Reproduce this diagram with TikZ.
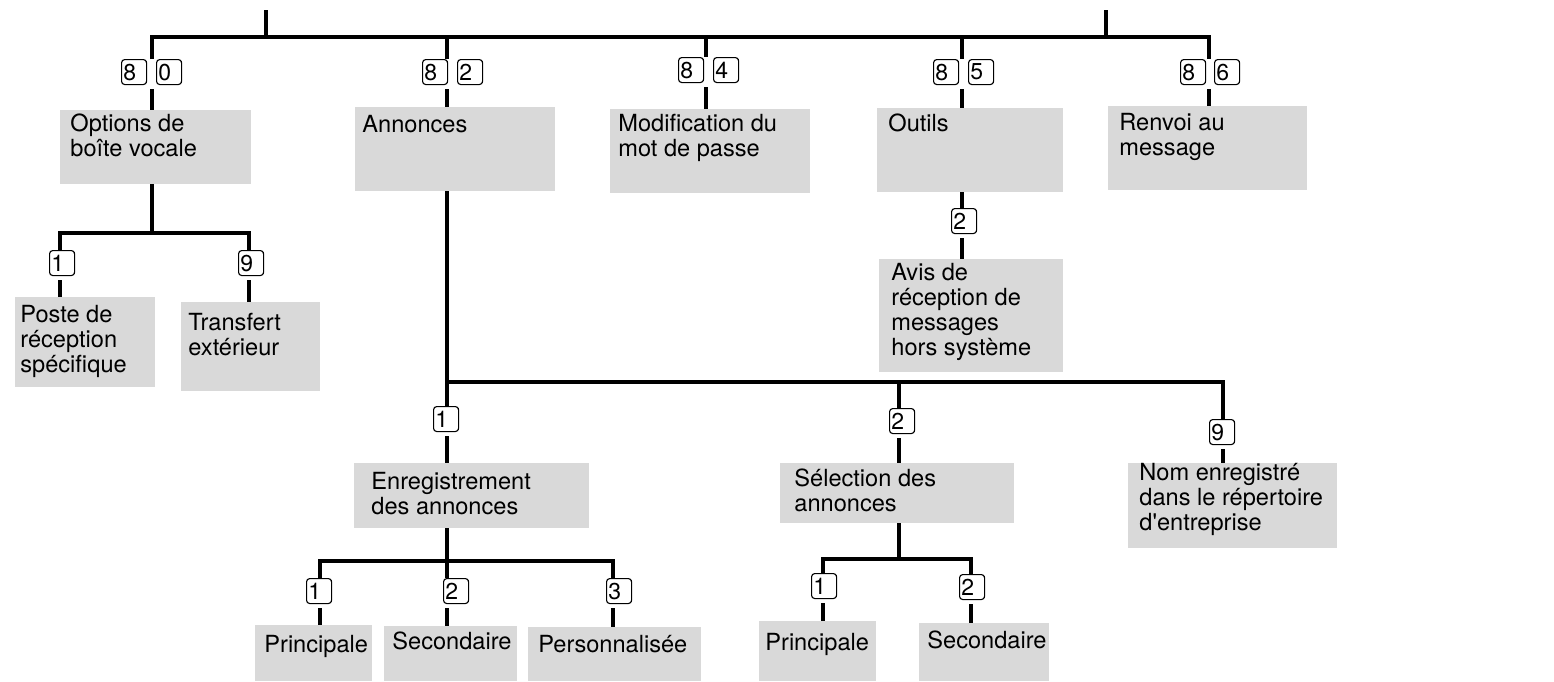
\documentclass[tikz,border=0pt]{standalone}
\usepackage{fontspec}
\setmainfont{TeX Gyre Heros}[Ligatures=TeXOff]
\usetikzlibrary{calc}
\definecolor{boxgray}{RGB}{217,217,217}
\newcommand{\ml}[1]{\begin{tabular}[t]{@{}l@{}}#1\end{tabular}}
\newcommand{\gbox}[5]{\node[graybox, minimum width={(#4-#2)*0.5pt}, minimum height={(#5-#3)*0.5pt}] (#1) at (#2,#3) {};}
\newcommand{\nkey}[4]{\node[numkey] (#1) at (#2,#3) {#4};
  \draw[line width=0.5pt] ([xshift=-0.3pt,yshift=-1.2pt]#1.north east) -- ([xshift=-0.3pt,yshift=1.2pt]#1.south east);}
\newcommand{\resume}[3]{\draw[conn] ($(#1 |- #2.south)+(0,4)$) -- (#1 |- #3.north);}
\tikzset{
  graybox/.style={fill=boxgray, draw=none, anchor=north west, inner sep=0pt, outer sep=0pt},
  txt/.style={anchor=base west, inner sep=0pt, font=\fontsize{11.8}{12.5}\selectfont},
  numkey/.style={draw, line width=0.55pt, rounded corners=1.6pt, anchor=north west,
    inner xsep=0.9pt, inner ysep=0pt, text width=10.7pt, align=left,
    minimum height=12.5pt, font=\fontsize{11.5}{12}\selectfont},
  conn/.style={line width=2pt},
}
\begin{document}
\begin{tikzpicture}[x=0.5pt,y=-0.5pt]
\useasboundingbox (0,0) rectangle (1554,681);
% ---- boxes
\gbox{opt}{60}{110}{251}{184}
\gbox{ann}{355}{107}{555}{191}
\gbox{mod}{610}{109}{810}{193}
\gbox{out}{877}{108}{1063}{192}
\gbox{ren}{1108}{106}{1307}{190}
\gbox{pos}{15}{297}{155}{387}
\gbox{tra}{181}{302}{320}{391}
\gbox{avi}{879}{259}{1063}{372}
\gbox{enr}{354}{463}{589}{528}
\gbox{sel}{780}{463}{1014}{523}
\gbox{nom}{1128}{463}{1337}{548}
\gbox{pr1}{255}{625}{372}{681}
\gbox{se1}{384}{626}{517}{681}
\gbox{per}{528}{627}{701}{681}
\gbox{pr2}{759}{621}{876}{681}
\gbox{se2}{919}{623}{1049}{681}
% ---- texts
\node[txt] (t-opt) at (70,131) {\ml{Options de\\boîte vocale}};
\node[txt] (t-ann) at (362,132) {\ml{Annonces}};
\node[txt] (t-mod) at (618,131) {\ml{Modification du\\mot de passe}};
\node[txt] (t-out) at (888,131) {\ml{Outils}};
\node[txt] (t-ren) at (1119,130) {\ml{Renvoi au\\message}};
\node[txt] (t-pos) at (20,322) {\ml{Poste de\\réception\\spécifique}};
\node[txt] (t-tra) at (188,330) {\ml{Transfert\\extérieur}};
\node[txt] (t-avi) at (891,280) {\ml{Avis de\\réception de\\messages\\hors système}};
\node[txt] (t-enr) at (371,489) {\ml{Enregistrement\\des annonces}};
\node[txt] (t-sel) at (794,486) {\ml{Sélection des\\annonces}};
\node[txt] (t-nom) at (1139,480) {\ml{Nom enregistré\\dans le répertoire\\d'entreprise}};
\node[txt] (t-pr1) at (264,652) {Principale};
\node[txt] (t-se1) at (392,649) {Secondaire};
\node[txt] (t-per) at (538,652) {Personnalisée};
\node[txt] (t-pr2) at (765,650) {Principale};
\node[txt] (t-se2) at (927,648) {Secondaire};
% ---- keys
\nkey{k80a}{121}{59}{8}\nkey{k80b}{156}{59}{0}
\nkey{k82a}{422}{59}{8}\nkey{k82b}{457}{59}{2}
\nkey{k84a}{678}{57}{8}\nkey{k84b}{713}{57}{4}
\nkey{k85a}{933}{59}{8}\nkey{k85b}{968}{59}{5}
\nkey{k86a}{1180}{59}{8}\nkey{k86b}{1214}{59}{6}
\nkey{ko1}{49}{250}{1}\nkey{ko9}{238}{250}{9}
\nkey{ku2}{951}{208}{2}
\nkey{ka1}{433}{406}{1}\nkey{ka2}{889}{408}{2}\nkey{ka9}{1209}{419}{9}
\nkey{ke1}{306}{578}{1}\nkey{ke2}{443}{578}{2}\nkey{ke3}{606}{578}{3}
\nkey{ks1}{811}{573}{1}\nkey{ks2}{959}{574}{2}
% ---- junction coordinates
\coordinate (r1) at (266,10);
\coordinate (r2) at (1106,10);
\coordinate (c80) at (152,37);
\coordinate (c82) at (447,37);
\coordinate (c84) at (706,37);
\coordinate (c85) at (962,37);
\coordinate (c86) at (1209,37);
\coordinate (co) at (152,233);
\coordinate (co1) at (60,233);
\coordinate (co9) at (249,233);
\coordinate (ca1) at (447,382);
\coordinate (ca2) at (899,382);
\coordinate (ca9) at (1223,382);
\coordinate (ce) at (447,561);
\coordinate (ce1) at (320,561);
\coordinate (ce3) at (613,561);
\coordinate (cs) at (899,559);
\coordinate (cs1) at (823,559);
\coordinate (cs2) at (971,559);
% ---- connectors: top level
\draw[conn] (r1) -- (r1 |- c80);
\draw[conn] (r2) -- (r2 |- c80);
\draw[conn] (c80 |- k80a.north) -- (c80) -- (c86) -- (c86 |- k86a.north);
\draw[conn] (c82) -- (c82 |- k82a.north);
\draw[conn] (c84) -- (c84 |- k84a.north);
\draw[conn] (c85) -- (c85 |- k85a.north);
\resume{c80}{k80a}{opt}
\resume{c82}{k82a}{ann}
\resume{c84}{k84a}{mod}
\resume{c85}{k85a}{out}
\resume{c86}{k86a}{ren}
% options
\draw[conn] (opt.south -| co) -- (co);
\draw[conn] (co1 |- ko1.north) -- (co1) -- (co9) -- (co9 |- ko9.north);
\resume{co1}{ko1}{pos}
\resume{co9}{ko9}{tra}
% outils
\draw[conn] (out.south -| c85) -- (c85 |- ku2.north);
\resume{c85}{ku2}{avi}
% annonces
\draw[conn] (ann.south -| ca1) -- (ca1 |- ka1.north);
\draw[conn] (ca1) -- (ca9) -- (ca9 |- ka9.north);
\draw[conn] (ca2) -- (ca2 |- ka2.north);
\resume{ca1}{ka1}{enr}
\resume{ca2}{ka2}{sel}
\resume{ca9}{ka9}{nom}
% enregistrement
\draw[conn] (enr.south -| ce) -- (ce |- ke2.north);
\draw[conn] (ce1 |- ke1.north) -- (ce1) -- (ce3) -- (ce3 |- ke3.north);
\resume{ce1}{ke1}{pr1}
\resume{ce}{ke2}{se1}
\resume{ce3}{ke3}{per}
% selection
\draw[conn] (sel.south -| cs) -- (cs);
\draw[conn] (cs1 |- ks1.north) -- (cs1) -- (cs2) -- (cs2 |- ks2.north);
\resume{cs1}{ks1}{pr2}
\resume{cs2}{ks2}{se2}
\end{tikzpicture}
\end{document}
